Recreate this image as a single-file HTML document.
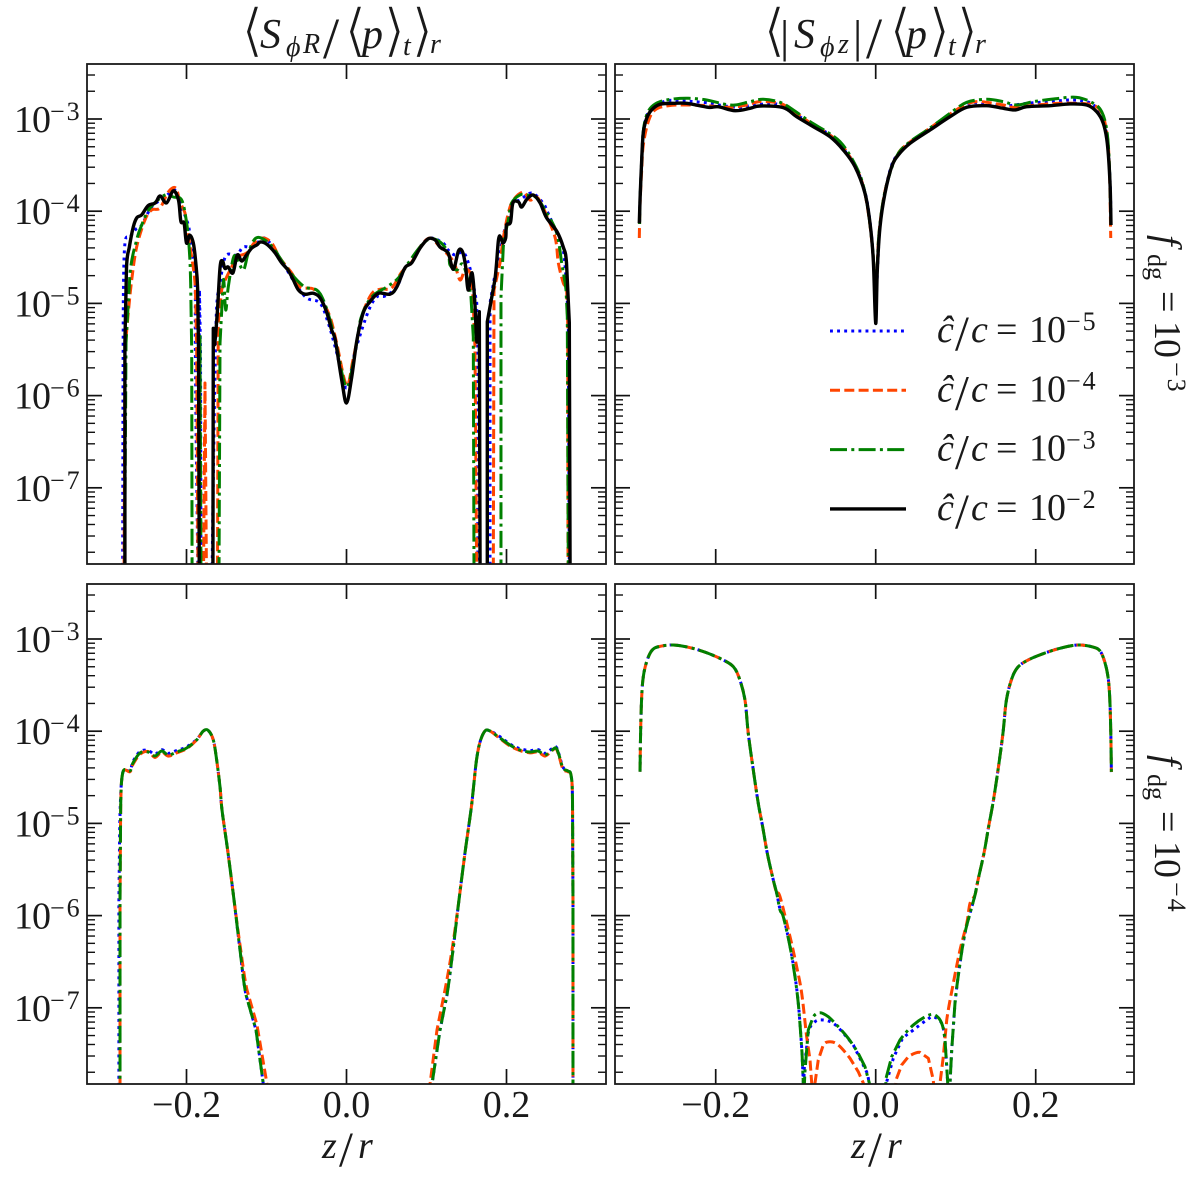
<!DOCTYPE html>
<html>
<head>
<meta charset="utf-8">
<title>Stress profiles</title>
<style>
html,body{margin:0;padding:0;background:#fff;}
svg{display:block;}
text{font-family:"Liberation Serif","DejaVu Serif",serif;fill:#1a1a1a;}
.it{font-style:italic;}
.ang{font-family:"DejaVu Sans",sans-serif;font-size:58px;stroke:#fff;stroke-width:1.6px;}
</style>
</head>
<body>
<svg id="figure" xmlns="http://www.w3.org/2000/svg" width="1200" height="1182" viewBox="0 0 1200 1182">
<rect width="1200" height="1182" fill="#fff"/>
<defs id="clips"></defs>
<g id="plots"></g>

<text font-size="40" y="48"><tspan class="ang" x="241" y="50">⟨</tspan><tspan class="it" x="260" y="48" font-size="42">S</tspan><tspan class="it" x="286" y="56" font-size="28">ϕ</tspan><tspan class="it" x="303" y="53" font-size="28">R</tspan><tspan x="323" y="58" font-size="58">/</tspan><tspan class="ang" x="344" y="50">⟨</tspan><tspan class="it" x="362" y="48" font-size="42">p</tspan><tspan class="ang" x="383" y="50">⟩</tspan><tspan class="it" x="403" y="55" font-size="28">t</tspan><tspan class="ang" x="411" y="50">⟩</tspan><tspan class="it" x="430" y="53" font-size="28">r</tspan></text>

<text font-size="40" y="48"><tspan class="ang" x="763" y="50">⟨</tspan><tspan x="780" font-size="46" y="52">|</tspan><tspan class="it" x="794" y="48" font-size="42">S</tspan><tspan class="it" x="820" y="56" font-size="28">ϕ</tspan><tspan class="it" x="838" y="53" font-size="28">z</tspan><tspan x="853" font-size="46" y="52">|</tspan><tspan x="866" y="58" font-size="58">/</tspan><tspan class="ang" x="889" y="50">⟨</tspan><tspan class="it" x="906" y="48" font-size="42">p</tspan><tspan class="ang" x="928" y="50">⟩</tspan><tspan class="it" x="948" y="55" font-size="28">t</tspan><tspan class="ang" x="956" y="50">⟩</tspan><tspan class="it" x="975" y="53" font-size="28">r</tspan></text>

<text font-size="38" y="1158"><tspan class="it" x="322">z</tspan><tspan x="339" y="1166" font-size="50">/</tspan><tspan class="it" x="358" y="1158">r</tspan></text>
<text font-size="38" y="1158"><tspan class="it" x="851">z</tspan><tspan x="868" y="1166" font-size="50">/</tspan><tspan class="it" x="887" y="1158">r</tspan></text>

<g transform="translate(1155,233) rotate(90)"><text font-size="38" y="0"><tspan class="it" x="2">f</tspan><tspan x="21" y="7" font-size="26">dg</tspan><tspan x="58" y="0">=</tspan><tspan x="88" y="0" letter-spacing="-1">10</tspan><tspan x="129" y="-13" font-size="26" letter-spacing="2">−3</tspan></text></g>
<g transform="translate(1155,753) rotate(90)"><text font-size="38" y="0"><tspan class="it" x="2">f</tspan><tspan x="21" y="7" font-size="26">dg</tspan><tspan x="58" y="0">=</tspan><tspan x="88" y="0" letter-spacing="-1">10</tspan><tspan x="129" y="-13" font-size="26" letter-spacing="2">−4</tspan></text></g>

<g id="legend"></g>
</svg>

<script>
// ---- axis data ----
const xTickValues = [-0.2, 0, 0.2];
const xTickLabels = ['−0.2', '0.0', '0.2'];
const yTickDecades = [-3, -4, -5, -6, -7];
const yTickLabels = ['−3', '−4', '−5', '−6', '−7'];
const yMinorDecades = [-8, -7, -6, -5, -4, -3];
const yMinorFactors = [2, 3, 4, 5, 6, 7, 8, 9];
const legendExponents = ['−5', '−4', '−3', '−2'];

// ---- top-left panel: z/r and log10(S_phiR/p) ----
const tlBlueZ = [-0.2798,-0.2794,-0.279,-0.2769,-0.2706,-0.2631,-0.256,-0.2435,-0.2269,-0.2144,-0.2081,-0.1978,-0.195,-0.1894,-0.189,-0.1881,-0.1856,-0.1838,-0.1825,-0.1819,-0.1681,-0.1669,-0.165,-0.1644,-0.1623,-0.1581,-0.151,-0.1373,-0.129,-0.1169,-0.1044,-0.0956,-0.0831,-0.0644,-0.0498,-0.0331,-0.0228,-0.0131,0,0.0106,0.0269,0.0378,0.0481,0.0628,0.0731,0.0819,0.0919,0.1044,0.1206,0.1269,0.1356,0.1456,0.1519,0.1569,0.1628,0.1644,0.1794,0.1794,0.1844,0.1878,0.1956,0.2003,0.2081,0.2169,0.2315,0.2456,0.2519,0.2628,0.2706,0.2752,0.2773,0.2785];
const tlBlueL = [-8,-6.048,-4.963,-4.345,-4.28,-4.193,-4.15,-3.954,-3.846,-3.77,-3.911,-4.15,-4.345,-4.714,-5.397,-6.34,-8,-4.855,-5.505,-8,-8,-7.132,-6.048,-5.755,-5.039,-4.779,-4.486,-4.475,-4.388,-4.388,-4.291,-4.345,-4.508,-4.779,-4.941,-4.996,-5.213,-5.505,-5.918,-5.527,-5.093,-4.93,-4.92,-4.822,-4.616,-4.55,-4.388,-4.291,-4.345,-4.42,-4.475,-4.443,-4.55,-4.714,-4.996,-8,-8,-4.996,-4.746,-4.638,-4.28,-4.128,-3.911,-3.879,-3.803,-3.911,-4.02,-4.236,-4.4,-4.822,-5.213,-8];

const tlOrangeZ = [-0.2781,-0.2769,-0.2728,-0.2685,-0.2623,-0.2519,-0.2435,-0.2331,-0.2228,-0.2135,-0.2081,-0.2019,-0.1994,-0.1935,-0.1894,-0.1881,-0.1873,-0.1856,-0.1788,-0.1769,-0.175,-0.1613,-0.1603,-0.156,-0.1498,-0.1435,-0.1373,-0.1248,-0.1144,-0.1044,-0.0935,-0.0831,-0.0685,-0.0581,-0.0415,-0.031,-0.0206,-0.0123,0,0.0081,0.0189,0.0253,0.0335,0.044,0.0565,0.069,0.0815,0.0919,0.1044,0.1169,0.1294,0.1356,0.1419,0.1481,0.1544,0.1578,0.1606,0.1628,0.1835,0.1844,0.1919,0.1956,0.2023,0.2085,0.221,0.2294,0.2378,0.246,0.2606,0.2648,0.271,0.2752,0.2765,0.2769];
const tlOrangeL = [-8,-5.505,-5.104,-4.746,-4.388,-4.095,-3.987,-3.965,-3.792,-3.748,-3.9,-4.02,-4.171,-4.497,-4.779,-5.147,-5.505,-8,-8,-5.863,-8,-8,-5.213,-4.855,-4.714,-4.605,-4.497,-4.453,-4.334,-4.291,-4.345,-4.508,-4.67,-4.822,-4.844,-4.963,-5.147,-5.43,-5.885,-5.614,-5.158,-4.996,-4.876,-4.844,-4.833,-4.66,-4.55,-4.388,-4.291,-4.388,-4.497,-4.583,-4.746,-4.638,-4.67,-4.887,-5.473,-8,-8,-4.855,-4.562,-4.312,-4.02,-3.879,-3.792,-3.879,-3.846,-3.965,-4.28,-4.562,-4.779,-4.855,-5.213,-8];

const tlGreenZ = [-0.2775,-0.2756,-0.2706,-0.2623,-0.256,-0.2456,-0.2269,-0.2165,-0.206,-0.1998,-0.1965,-0.1948,-0.1935,-0.193,-0.1844,-0.1831,-0.1819,-0.1594,-0.1581,-0.154,-0.151,-0.1478,-0.1415,-0.1369,-0.129,-0.1228,-0.1144,-0.1044,-0.0915,-0.079,-0.0644,-0.0519,-0.0373,-0.029,-0.0206,-0.0123,0,0.0106,0.0181,0.0315,0.0503,0.0648,0.0773,0.0919,0.1044,0.1169,0.1273,0.1294,0.1378,0.146,0.1556,0.1585,0.1594,0.1931,0.1931,0.196,0.2023,0.2065,0.2169,0.2253,0.2378,0.2503,0.2628,0.269,0.2744,0.276,0.2773];
const tlGreenL = [-8,-5.43,-4.67,-4.312,-4.15,-3.965,-3.824,-3.846,-3.879,-4.128,-4.42,-4.779,-5.505,-8,-8,-5.343,-8,-8,-5.43,-4.746,-5.072,-4.822,-4.508,-4.508,-4.638,-4.453,-4.3,-4.3,-4.4,-4.562,-4.725,-4.822,-4.855,-4.963,-5.18,-5.473,-5.907,-5.538,-5.158,-4.93,-4.822,-4.725,-4.562,-4.388,-4.3,-4.334,-4.453,-4.583,-4.638,-4.583,-4.93,-5.364,-8,-8,-4.93,-4.388,-4.095,-3.911,-3.824,-3.824,-3.857,-4.02,-4.236,-4.562,-4.855,-5.147,-8];

const tlBlackZ = [-0.277,-0.277,-0.275,-0.2715,-0.2665,-0.262,-0.256,-0.248,-0.239,-0.233,-0.225,-0.2165,-0.21,-0.207,-0.203,-0.2,-0.196,-0.1915,-0.1885,-0.186,-0.185,-0.184,-0.167,-0.1665,-0.165,-0.1615,-0.158,-0.155,-0.152,-0.148,-0.142,-0.1365,-0.131,-0.125,-0.1185,-0.112,-0.108,-0.102,-0.0955,-0.089,-0.081,-0.073,-0.0665,-0.06,-0.052,-0.0415,-0.033,-0.025,-0.0185,-0.014,-0.006,0,0.0065,0.013,0.021,0.029,0.04,0.0545,0.063,0.073,0.0815,0.092,0.102,0.1105,0.117,0.127,0.1335,0.14,0.145,0.149,0.152,0.157,0.1605,0.163,0.166,0.167,0.176,0.176,0.1855,0.19,0.193,0.1955,0.199,0.2,0.205,0.208,0.215,0.219,0.2255,0.2335,0.242,0.25,0.263,0.271,0.275,0.2785,0.2795];
const tlBlackL = [-8,-5.43,-4.61,-4.39,-4.17,-4.07,-4.04,-3.94,-3.91,-3.835,-3.91,-3.78,-3.88,-4.11,-4.13,-4.345,-4.26,-4.345,-4.55,-4.855,-5.505,-8,-8,-5.27,-5.45,-5.1,-4.605,-4.54,-4.62,-4.605,-4.67,-4.475,-4.54,-4.475,-4.4,-4.365,-4.335,-4.345,-4.39,-4.455,-4.56,-4.64,-4.745,-4.855,-4.9,-4.89,-4.94,-5.09,-5.29,-5.4,-5.83,-6.08,-5.8,-5.4,-5.1,-4.985,-4.89,-4.9,-4.82,-4.615,-4.56,-4.4,-4.3,-4.31,-4.39,-4.455,-4.63,-4.43,-4.44,-4.605,-4.855,-4.67,-5,-5.42,-5.09,-8,-8,-5.2,-4.745,-4.31,-4.29,-4.345,-4.29,-4.15,-4.12,-3.91,-3.9,-3.955,-3.87,-3.825,-3.91,-4.07,-4.22,-4.39,-4.56,-5.21,-8];

// ---- top-right panel: z/r and log10(|S_phiz|/p) ----
const trBlueZ = [-0.2951,-0.2946,-0.2925,-0.2905,-0.2863,-0.28,-0.2613,-0.2425,-0.2259,-0.2071,-0.1884,-0.1696,-0.153,-0.1343,-0.1196,-0.0988,-0.078,-0.0571,-0.0405,-0.0259,-0.0134,-0.0071,-0.003,0,0.0029,0.0054,0.0116,0.02,0.0283,0.0429,0.0679,0.0929,0.1179,0.1345,0.1513,0.1638,0.1888,0.2179,0.2429,0.2638,0.2763,0.2845,0.2895,0.2929,0.2941];
const trBlueL = [-4.12,-3.879,-3.445,-3.14,-2.97,-2.88,-2.802,-2.805,-2.812,-2.83,-2.859,-2.873,-2.848,-2.837,-2.848,-2.957,-3.065,-3.174,-3.325,-3.499,-3.792,-4.117,-4.508,-4.963,-4.508,-4.15,-3.792,-3.499,-3.38,-3.25,-3.108,-2.957,-2.83,-2.837,-2.848,-2.859,-2.83,-2.812,-2.794,-2.812,-2.881,-3.022,-3.228,-3.662,-4.117];

const trOrangeZ = [-0.2955,-0.2946,-0.2925,-0.2905,-0.2843,-0.2759,-0.2593,-0.2363,-0.2113,-0.1821,-0.1613,-0.1446,-0.1196,-0.103,-0.0821,-0.0613,-0.0446,-0.03,-0.0175,-0.0096,-0.0034,0,0.0035,0.0095,0.0179,0.0283,0.0429,0.0679,0.0929,0.1138,0.1304,0.1595,0.172,0.2013,0.2263,0.2513,0.272,0.2825,0.2888,0.292,0.2938];
const trOrangeL = [-4.291,-3.933,-3.553,-3.282,-3.029,-2.902,-2.856,-2.848,-2.856,-2.873,-2.848,-2.812,-2.83,-2.913,-3.04,-3.152,-3.26,-3.445,-3.672,-3.998,-4.464,-4.963,-4.312,-3.879,-3.575,-3.369,-3.25,-3.098,-2.946,-2.837,-2.812,-2.848,-2.873,-2.848,-2.83,-2.83,-2.848,-2.935,-3.141,-3.499,-4.291];

const trGreenZ = [-0.2951,-0.2946,-0.2925,-0.2905,-0.2863,-0.28,-0.2696,-0.253,-0.2343,-0.2113,-0.1905,-0.1759,-0.1571,-0.1405,-0.1196,-0.103,-0.0821,-0.0613,-0.0446,-0.03,-0.0175,-0.0096,-0.0034,0,0.0035,0.0095,0.0179,0.0283,0.0429,0.0679,0.0929,0.1138,0.1388,0.1595,0.1763,0.197,0.222,0.2513,0.272,0.2825,0.2888,0.292,0.2941];
const trGreenL = [-4.139,-3.879,-3.445,-3.13,-2.957,-2.867,-2.812,-2.783,-2.775,-2.794,-2.837,-2.848,-2.812,-2.786,-2.819,-2.902,-3.029,-3.138,-3.246,-3.426,-3.662,-3.987,-4.453,-4.963,-4.312,-3.879,-3.586,-3.372,-3.246,-3.098,-2.938,-2.819,-2.786,-2.812,-2.848,-2.812,-2.783,-2.765,-2.83,-2.921,-3.119,-3.48,-4.15];

const trBlackZ = [-0.2955,-0.2946,-0.2925,-0.2905,-0.2863,-0.28,-0.2696,-0.253,-0.2363,-0.2093,-0.1968,-0.1759,-0.1571,-0.1446,-0.1155,-0.0988,-0.078,-0.0571,-0.0405,-0.0259,-0.0134,-0.0071,-0.003,0,0.002,0.0054,0.0116,0.02,0.0283,0.0429,0.0679,0.0929,0.1138,0.1388,0.1595,0.1741,0.1888,0.2179,0.2429,0.2638,0.2763,0.2845,0.2895,0.2929,0.2941];
const trBlackL = [-4.131,-3.879,-3.445,-3.15,-2.992,-2.9,-2.84,-2.83,-2.83,-2.873,-2.867,-2.91,-2.884,-2.859,-2.877,-2.975,-3.083,-3.192,-3.336,-3.517,-3.806,-4.13,-4.53,-5.217,-4.638,-4.168,-3.806,-3.517,-3.39,-3.264,-3.119,-2.975,-2.873,-2.856,-2.884,-2.902,-2.867,-2.856,-2.837,-2.848,-2.921,-3.047,-3.264,-3.697,-4.15];

// ---- bottom-left panel ----
const blGreenZ = [-0.2831,-0.2831,-0.2825,-0.2821,-0.281,-0.2781,-0.2706,-0.2669,-0.2581,-0.2478,-0.2394,-0.231,-0.2228,-0.2123,-0.1998,-0.1873,-0.179,-0.1728,-0.1665,-0.1623,-0.1581,-0.1556,-0.1481,-0.1406,-0.1331,-0.1256,-0.1131,-0.104,-0.1025,0.1055,0.1069,0.1169,0.1256,0.1331,0.1406,0.1481,0.1556,0.1588,0.1625,0.1669,0.1731,0.1794,0.1919,0.2044,0.2169,0.2294,0.2394,0.2481,0.2569,0.2619,0.2656,0.2706,0.2769,0.2806,0.2825,0.2831,0.2831];
const blGreenL = [-8,-5.83,-5.072,-4.746,-4.529,-4.42,-4.43,-4.345,-4.236,-4.226,-4.269,-4.215,-4.258,-4.226,-4.182,-4.095,-3.998,-3.992,-4.095,-4.312,-4.605,-4.855,-5.32,-5.83,-6.373,-6.861,-7.241,-7.826,-8,-8,-7.826,-7.241,-6.861,-6.373,-5.83,-5.32,-4.855,-4.605,-4.312,-4.117,-3.998,-3.998,-4.074,-4.15,-4.204,-4.226,-4.215,-4.258,-4.204,-4.182,-4.258,-4.399,-4.432,-4.475,-4.746,-5.83,-8];

const blBlueZ = [-0.2845,-0.2845,-0.2835,-0.2825,-0.281,-0.2781,-0.2706,-0.2669,-0.2581,-0.2478,-0.2394,-0.231,-0.2228,-0.2123,-0.1998,-0.1873,-0.179,-0.1728,-0.1665,-0.1623,-0.1581,-0.1556,-0.1481,-0.1406,-0.1331,-0.1256,-0.1131,-0.104,-0.1025,0.1055,0.1069,0.1169,0.1256,0.1331,0.1406,0.1481,0.1556,0.1588,0.1625,0.1669,0.1731,0.1794,0.1919,0.2044,0.2169,0.2294,0.2394,0.2481,0.2569,0.2619,0.2656,0.2706,0.2769,0.2806,0.2825,0.2831,0.2831];
const blBlueL = [-8,-5.83,-5.072,-4.746,-4.529,-4.42,-4.43,-4.33,-4.22,-4.21,-4.25,-4.2,-4.24,-4.21,-4.17,-4.09,-3.998,-3.992,-4.095,-4.312,-4.605,-4.855,-5.32,-5.83,-6.373,-6.861,-7.241,-7.826,-8,-8,-7.826,-7.241,-6.861,-6.373,-5.83,-5.32,-4.855,-4.605,-4.312,-4.117,-3.998,-3.998,-4.06,-4.14,-4.19,-4.21,-4.2,-4.24,-4.19,-4.17,-4.25,-4.39,-4.432,-4.475,-4.746,-5.83,-8];

const blOrangeZ = [-0.2831,-0.2831,-0.2825,-0.2821,-0.281,-0.2781,-0.2706,-0.2669,-0.2581,-0.2478,-0.2394,-0.231,-0.2228,-0.2123,-0.1998,-0.1873,-0.179,-0.1728,-0.1665,-0.1623,-0.1581,-0.1556,-0.1481,-0.1406,-0.1331,-0.1244,-0.1119,-0.0994,-0.098,0.103,0.1044,0.1131,0.1231,0.1319,0.1406,0.1481,0.1556,0.1588,0.1625,0.1669,0.1731,0.1794,0.1919,0.2044,0.2169,0.2294,0.2394,0.2481,0.2569,0.2619,0.2656,0.2706,0.2769,0.2806,0.2825,0.2831,0.2831];
const blOrangeL = [-8,-5.83,-5.072,-4.746,-4.529,-4.42,-4.44,-4.36,-4.25,-4.22,-4.285,-4.225,-4.27,-4.235,-4.19,-4.095,-3.998,-3.992,-4.095,-4.312,-4.605,-4.855,-5.32,-5.83,-6.319,-6.807,-7.187,-7.826,-8,-8,-7.826,-7.241,-6.807,-6.373,-5.83,-5.32,-4.855,-4.605,-4.312,-4.117,-3.998,-3.998,-4.08,-4.16,-4.21,-4.235,-4.225,-4.27,-4.21,-4.19,-4.27,-4.41,-4.44,-4.475,-4.746,-5.83,-8];

// ---- bottom-right panel: shared outer arms plus series-specific centres ----
const brLeftArmZ = [-0.2946,-0.2938,-0.2925,-0.2905,-0.2863,-0.28,-0.2718,-0.253,-0.2321,-0.2113,-0.1905,-0.178,-0.1705,-0.1634,-0.1593,-0.153,-0.1468,-0.1413,-0.1355,-0.128,-0.1238];
const brLeftArmL = [-4.439,-3.987,-3.626,-3.409,-3.246,-3.127,-3.084,-3.065,-3.094,-3.149,-3.228,-3.3,-3.426,-3.662,-4.023,-4.421,-4.782,-5.036,-5.324,-5.614,-5.755];
const brRightArmZ = [0.1241,0.1279,0.1354,0.1413,0.1466,0.1529,0.1591,0.1634,0.1704,0.1779,0.1904,0.2116,0.2316,0.2529,0.2716,0.2804,0.2863,0.2904,0.2925,0.2938,0.2946];
const brRightArmL = [-5.777,-5.614,-5.321,-5.028,-4.779,-4.421,-4.02,-3.662,-3.423,-3.304,-3.228,-3.152,-3.098,-3.065,-3.087,-3.13,-3.249,-3.412,-3.629,-3.987,-4.443];

const brGreenCentreZ = [-0.1196,-0.1155,-0.1071,-0.1009,-0.0968,-0.0938,-0.0921,-0.0905,-0.09,-0.0885,-0.0843,-0.078,-0.0696,-0.0593,-0.0468,-0.0343,-0.0218,-0.0134,-0.008,-0.0065,0.012,0.0129,0.02,0.0304,0.047,0.0638,0.0741,0.0825,0.0866,0.0888,0.09,0.0905,0.0918,0.0929,0.095,0.0991,0.1054,0.1116,0.1179];
const brGreenCentreL = [-5.939,-6.012,-6.337,-6.663,-6.951,-7.277,-7.49,-7.816,-8,-7.7,-7.241,-7.097,-7.053,-7.097,-7.205,-7.331,-7.494,-7.639,-7.816,-8,-8,-7.765,-7.53,-7.349,-7.187,-7.089,-7.078,-7.168,-7.349,-7.639,-7.816,-8,-8,-7.816,-7.458,-6.951,-6.517,-6.189,-5.975];

const brBlueCentreZ = [-0.1196,-0.1155,-0.1071,-0.1009,-0.0968,-0.0938,-0.0921,-0.0905,-0.09,-0.0895,-0.0843,-0.0759,-0.0655,-0.053,-0.0405,-0.028,-0.0105,-0.008,-0.0065,0.0125,0.0138,0.022,0.0325,0.047,0.0638,0.072,0.0825,0.0866,0.0888,0.09,0.0905,0.0918,0.0929,0.095,0.0991,0.1054,0.1116,0.1179];
const brBlueCentreL = [-5.93,-6.005,-6.33,-6.655,-6.945,-7.27,-7.485,-7.81,-8,-7.675,-7.273,-7.151,-7.132,-7.168,-7.273,-7.403,-7.71,-7.816,-8,-8,-7.8,-7.548,-7.349,-7.241,-7.132,-7.097,-7.168,-7.349,-7.639,-7.816,-8,-8,-7.816,-7.458,-6.951,-6.517,-6.189,-5.975];

const brOrangeCentreZ = [-0.1196,-0.1071,-0.0988,-0.0925,-0.0863,-0.0821,-0.08,-0.0785,-0.0765,-0.0759,-0.0718,-0.0655,-0.0571,-0.0468,-0.0321,-0.0218,-0.0155,-0.014,0.024,0.0254,0.0325,0.0408,0.0554,0.0658,0.072,0.0735,0.0795,0.0804,0.0845,0.0888,0.097,0.1054,0.1138,0.1179];
const brOrangeCentreL = [-5.795,-6.229,-6.554,-6.843,-7.313,-7.566,-7.816,-8,-8,-7.816,-7.566,-7.403,-7.368,-7.403,-7.548,-7.693,-7.816,-8,-8,-7.783,-7.62,-7.53,-7.483,-7.548,-7.783,-8,-8,-7.816,-7.53,-7.132,-6.734,-6.373,-6.084,-5.867];

const brGreenZ = [...brLeftArmZ, ...brGreenCentreZ, ...brRightArmZ];
const brGreenL = [...brLeftArmL, ...brGreenCentreL, ...brRightArmL];
const brBlueZ = [...brLeftArmZ, ...brBlueCentreZ, ...brRightArmZ];
const brBlueL = [...brLeftArmL, ...brBlueCentreL, ...brRightArmL];
const brOrangeZ = [...brLeftArmZ, ...brOrangeCentreZ, ...brRightArmZ];
const brOrangeL = [...brLeftArmL, ...brOrangeCentreL, ...brRightArmL];

// ---- styles and layout ----
const styles = {
  blue:   {stroke:'#0000ff', width:3.0, dash:'2.9 4.2'},
  orange: {stroke:'#ff4500', width:3.0, dash:'10 4.3'},
  green:  {stroke:'#008000', width:3.0, dash:'17 4.3 3 4.3'},
  black:  {stroke:'#000000', width:3.4, dash:''}
};
const panels = [
  {id:'top-left', left:87, top:64, zero:346.5, labelY:true, labelX:false,
   series:[['blue',tlBlueZ,tlBlueL],['orange',tlOrangeZ,tlOrangeL],['green',tlGreenZ,tlGreenL],['black',tlBlackZ,tlBlackL]]},
  {id:'top-right', left:615, top:64, zero:875.7, labelY:false, labelX:false,
   series:[['blue',trBlueZ,trBlueL],['orange',trOrangeZ,trOrangeL],['green',trGreenZ,trGreenL],['black',trBlackZ,trBlackL]]},
  {id:'bottom-left', left:87, top:584, zero:346.5, labelY:true, labelX:true,
   series:[['blue',blBlueZ,blBlueL],['orange',blOrangeZ,blOrangeL],['green',blGreenZ,blGreenL]]},
  {id:'bottom-right', left:615, top:584, zero:875.7, labelY:false, labelX:true,
   series:[['blue',brBlueZ,brBlueL],['orange',brOrangeZ,brOrangeL],['green',brGreenZ,brGreenL]]}
];
const W = 519, H = 500, X_SCALE = 800, Y_SCALE = 92.2, DECADE3_OFFSET = 55;
const NS = 'http://www.w3.org/2000/svg';
const logMax = -3 + DECADE3_OFFSET / Y_SCALE;
const logMin = logMax - H / Y_SCALE;

function xPos(panel, z) { return panel.zero + z * X_SCALE; }
function yPos(panel, logV) { return panel.top + DECADE3_OFFSET + (-3 - logV) * Y_SCALE; }
function make(tag, parent, attrs) {
  const el = document.createElementNS(NS, tag);
  for (const k in attrs) el.setAttribute(k, attrs[k]);
  parent.appendChild(el);
  return el;
}
// Catmull-Rom smoothing; segments that dive below the axis stay straight.
function buildPath(p, zs, ls) {
  const pts = zs.map(function (z, i) { return [xPos(p, z), yPos(p, ls[i]), ls[i]]; });
  let d = 'M' + pts[0][0].toFixed(2) + ' ' + pts[0][1].toFixed(2);
  for (let i = 0; i < pts.length - 1; i++) {
    const a = pts[Math.max(i - 1, 0)], b = pts[i], c = pts[i + 1], e = pts[Math.min(i + 2, pts.length - 1)];
    if (b[2] <= -7.7 || c[2] <= -7.7 || a[2] <= -7.7 || e[2] <= -7.7) {
      d += 'L' + c[0].toFixed(2) + ' ' + c[1].toFixed(2);
    } else {
      const c1x = b[0] + (c[0] - a[0]) / 6, c1y = b[1] + (c[1] - a[1]) / 6;
      const c2x = c[0] - (e[0] - b[0]) / 6, c2y = c[1] - (e[1] - b[1]) / 6;
      d += 'C' + c1x.toFixed(2) + ' ' + c1y.toFixed(2) + ' ' + c2x.toFixed(2) + ' ' + c2y.toFixed(2) + ' ' + c[0].toFixed(2) + ' ' + c[1].toFixed(2);
    }
  }
  return d;
}

const plots = document.getElementById('plots');
const clips = document.getElementById('clips');

panels.forEach(function (p) {
  const g = make('g', plots, {});
  
  

  const clip = make('clipPath', clips, {id: 'clip-' + p.id});
  make('rect', clip, {x: p.left, y: p.top, width: W, height: H});

  const linesG = make('g', g, {'clip-path': 'url(#clip-' + p.id + ')'});
  
  

  p.series.forEach(function (s) {
    const st = styles[s[0]];
    const line = make('path', linesG, {d: buildPath(p, s[1], s[2]), fill: 'none', stroke: st.stroke, 'stroke-width': st.width, 'stroke-linejoin': 'round'});
    if (st.dash) line.setAttribute('stroke-dasharray', st.dash);
    
    
  });

  // x ticks (top and bottom, major only)
  xTickValues.forEach(function (v, i) {
    const x = xPos(p, v);
    const t1 = make('line', g, {x1: x, x2: x, y1: p.top + H, y2: p.top + H - 15, stroke: '#111', 'stroke-width': 1.7});
    
    
    const t2 = make('line', g, {x1: x, x2: x, y1: p.top, y2: p.top + 15, stroke: '#111', 'stroke-width': 1.7});
    
    
    if (p.labelX) {
      const attrs = {x: x, y: 1117, 'text-anchor': 'middle', 'font-size': 38};
      if (xTickLabels[i].charAt(0) === '−') { attrs.textLength = 69; attrs.lengthAdjust = 'spacing'; }
      const lab = make('text', g, attrs);
      lab.textContent = xTickLabels[i];
      
      
    }
  });

  // y major ticks
  yTickDecades.forEach(function (d, i) {
    const y = yPos(p, d);
    const t1 = make('line', g, {x1: p.left, x2: p.left + 15, y1: y, y2: y, stroke: '#111', 'stroke-width': 1.7});
    
    
    const t2 = make('line', g, {x1: p.left + W, x2: p.left + W - 15, y1: y, y2: y, stroke: '#111', 'stroke-width': 1.7});
    
    
    if (p.labelY) {
      const lab = make('text', g, {y: y + 13, 'font-size': 38});
      
      
      const base = make('tspan', lab, {x: 14, 'letter-spacing': -1});
      base.textContent = '10';
      const sup = make('tspan', lab, {x: 50, y: y + 1, 'font-size': 26, 'letter-spacing': 2});
      sup.textContent = yTickLabels[i];
    }
  });

  // y minor ticks
  yMinorDecades.forEach(function (d) {
    yMinorFactors.forEach(function (f) {
      const l = d + Math.log10(f);
      if (l > logMax || l < logMin) return;
      const y = yPos(p, l);
      const t1 = make('line', g, {x1: p.left, x2: p.left + 8, y1: y, y2: y, stroke: '#111', 'stroke-width': 1.4});
      
      
      const t2 = make('line', g, {x1: p.left + W, x2: p.left + W - 8, y1: y, y2: y, stroke: '#111', 'stroke-width': 1.4});
      
      
    });
  });

  const frame = make('rect', g, {x: p.left, y: p.top, width: W, height: H, fill: 'none', stroke: '#1a1a1a', 'stroke-width': 1.8});
  
  
});

// legend
const legend = document.getElementById('legend');
const legendKeys = ['blue', 'orange', 'green', 'black'];
legendKeys.forEach(function (k, i) {
  const y = 331 + i * 59.3;
  const st = styles[k];
  const entry = make('g', legend, {});
  
  
  const line = make('line', entry, {x1: 830, x2: 906, y1: y, y2: y, stroke: st.stroke, 'stroke-width': st.width});
  if (st.dash) line.setAttribute('stroke-dasharray', st.dash);
  
  
  const txt = make('text', entry, {y: y + 11, 'font-size': 38});
  
  
  const a = make('tspan', txt, {x: 937, 'font-style': 'italic'});
  a.textContent = 'ĉ';
  const b = make('tspan', txt, {x: 955, y: y + 19, 'font-size': 50});
  b.textContent = '/';
  const c = make('tspan', txt, {x: 971, y: y + 11, 'font-style': 'italic'});
  c.textContent = 'c';
  const eq = make('tspan', txt, {x: 996});
  eq.textContent = '=';
  const ten = make('tspan', txt, {x: 1029, 'letter-spacing': -1});
  ten.textContent = '10';
  const sup = make('tspan', txt, {x: 1066, y: y - 1, 'font-size': 26, 'letter-spacing': 2});
  sup.textContent = legendExponents[i];
});
</script>
</body>
</html>
